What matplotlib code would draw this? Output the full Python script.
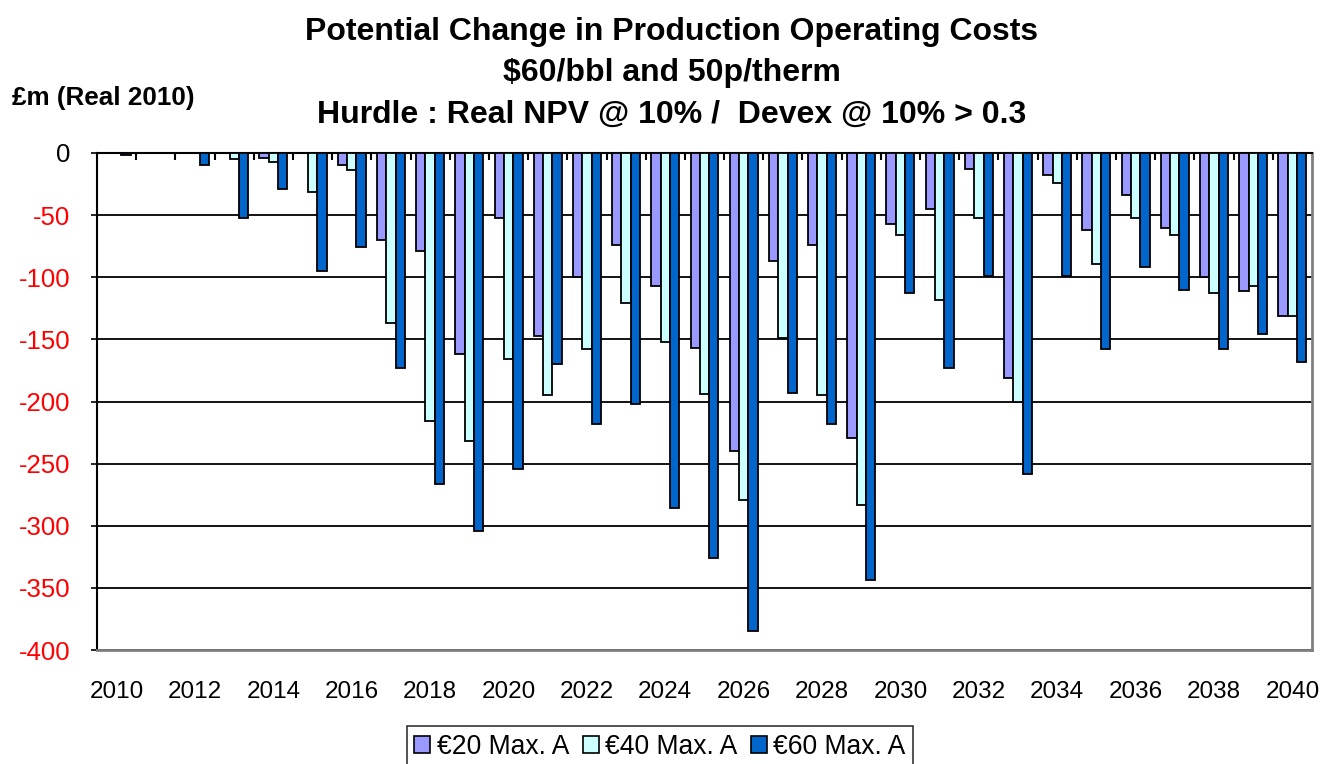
import numpy as np
import matplotlib.pyplot as plt
from matplotlib.ticker import FixedLocator
from matplotlib.patches import Patch

plt.rcParams['font.family'] = ['Liberation Sans', 'DejaVu Sans']

# Data, £m Real 2010
years = list(range(2010, 2041))
eur20 = [0, 0, 0, 0, -4, 0, -10, -70, -79, -162, -52, -147, -100, -74, -107, -157,
         -240, -87, -74, -229, -57, -45, -13, -181, -18, -62, -34, -60, -100, -111, -131]
eur40 = [0, 0, 0, -5, -7, -31, -14, -137, -216, -232, -166, -195, -158, -121, -152, -194,
         -279, -149, -195, -283, -66, -118, -52, -200, -24, -89, -52, -66, -113, -107, -131]
eur60 = [-2, 0, -10, -52, -29, -95, -76, -173, -266, -304, -254, -170, -218, -202, -286, -326,
         -385, -193, -218, -344, -113, -173, -99, -258, -99, -158, -92, -110, -158, -146, -168]
series_names = ['€20 Max. A', '€40 Max. A', '€60 Max. A']
colors = ['#9999FF', '#CCFFFF', '#0066CC']
yticks = list(range(-400, 1, 50))

fig = plt.figure(figsize=(13.23, 7.64), dpi=100)
ax = fig.add_axes([97 / 1323, 1 - 650 / 764, (1312 - 97) / 1323, (650 - 153) / 764])

x = np.arange(len(years))
w = 0.238
for i, (vals, c) in enumerate(zip([eur20, eur40, eur60], colors)):
    ax.bar(x + (i - 1) * w, vals, width=w, color=c, edgecolor='black', linewidth=1.3, zorder=3)

ax.set_xlim(-0.5, len(years) - 0.5)
ax.set_ylim(-400, 0)

# horizontal gridlines
ax.set_yticks(yticks)
ax.grid(axis='y', color='black', linewidth=1.3, zorder=1)
ax.set_yticklabels([str(v) for v in yticks], fontsize=18.5)
for lab, v in zip(ax.get_yticklabels(), yticks):
    lab.set_color('red' if v < 0 else 'black')
ax.tick_params(axis='y', length=4, width=1.2, pad=15)

# category labels every 2 years
ax.set_xticks(x[::2])
ax.set_xticklabels([str(y) for y in years[::2]], fontsize=17.5)
ax.tick_params(axis='x', which='major', length=0, pad=22)
# small tick marks between categories on the zero line
ax.xaxis.set_minor_locator(FixedLocator(np.arange(0.5, len(years) - 1, 1)))
ax.tick_params(axis='x', which='minor', bottom=False, top=True, direction='in', length=5, width=1.5)

for s in ['left', 'top']:
    ax.spines[s].set_color('black')
    ax.spines[s].set_linewidth(1.5)
for s in ['right', 'bottom']:
    ax.spines[s].set_color('#808080')
    ax.spines[s].set_linewidth(2)

# titles
fig.text(672 / 1323, 1 - 32 / 764, 'Potential Change in Production Operating Costs',
         ha='center', va='center', fontsize=23, fontweight='bold')
fig.text(672 / 1323, 1 - 73 / 764, '$60/bbl and 50p/therm',
         ha='center', va='center', fontsize=23, fontweight='bold')
fig.text(672 / 1323, 1 - 115 / 764, 'Hurdle : Real NPV @ 10% /  Devex @ 10% > 0.3',
         ha='center', va='center', fontsize=23, fontweight='bold')
fig.text(12 / 1323, 1 - 98 / 764, '£m (Real 2010)', ha='left', va='center',
         fontsize=18.8, fontweight='bold')

handles = [Patch(facecolor=c, edgecolor='black', linewidth=1.2) for c in colors]
leg = fig.legend(handles, series_names, loc='upper center', ncol=3,
                 bbox_to_anchor=(660 / 1323, 1 - 726 / 764), fontsize=19.1,
                 frameon=True, fancybox=False, edgecolor='black',
                 handlelength=0.6, handleheight=0.6, handletextpad=0.25,
                 columnspacing=0.5, borderpad=0.3, borderaxespad=0)
leg.get_frame().set_linewidth(1.2)

fig.savefig('out.png', dpi=100)
